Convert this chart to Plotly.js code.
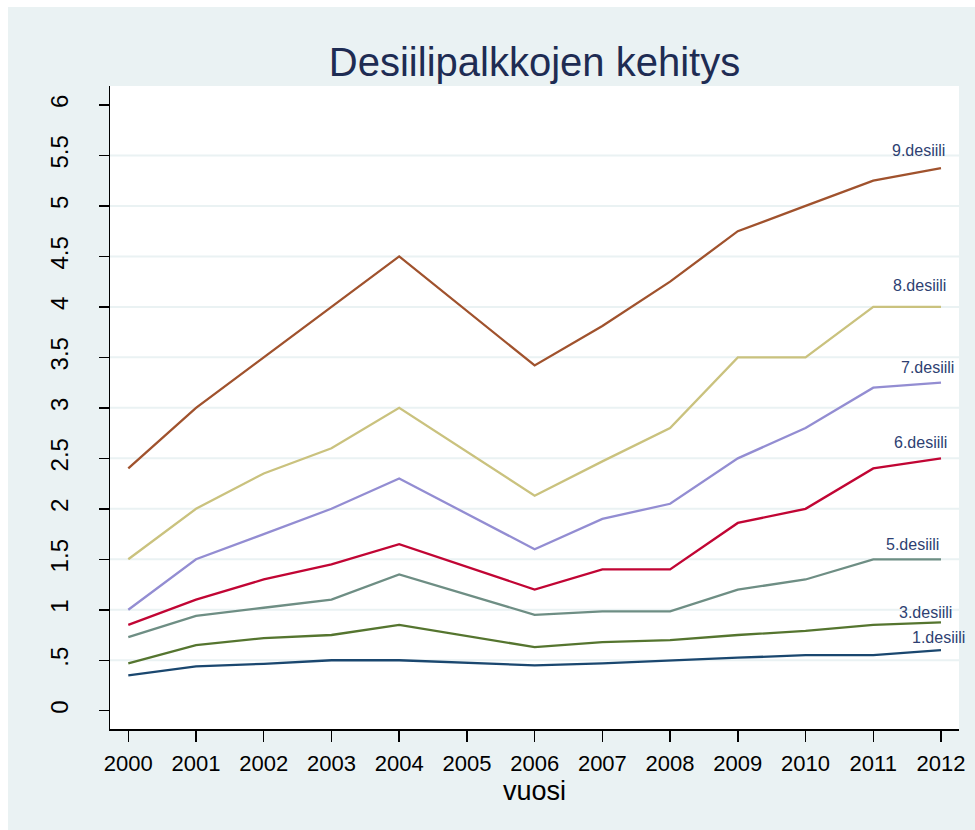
<!DOCTYPE html>
<html>
<head>
<meta charset="utf-8">
<script src="https://cdn.plot.ly/plotly-3.0.1.min.js"></script>
<style>
html,body{margin:0;padding:0;background:#ffffff;}
#chart{position:absolute;left:8px;top:7px;width:967px;height:823px;}
</style>
</head>
<body>
<div id="chart"></div>
<script>
// ---- data ----
const years = [2000, 2001, 2002, 2003, 2004, 2006, 2007, 2008, 2009, 2010, 2011, 2012];
const tickYears = [2000, 2001, 2002, 2003, 2004, 2005, 2006, 2007, 2008, 2009, 2010, 2011, 2012];
const yTickVals = [0, 0.5, 1, 1.5, 2, 2.5, 3, 3.5, 4, 4.5, 5, 5.5, 6];
const yTickText = ["0", ".5", "1", "1.5", "2", "2.5", "3", "3.5", "4", "4.5", "5", "5.5", "6"];
const seriesNames = ["1.desiili", "3.desiili", "5.desiili", "6.desiili", "7.desiili", "8.desiili", "9.desiili"];
const d1 = [0.35, 0.44, 0.465, 0.5, 0.5, 0.45, 0.47, 0.5, 0.525, 0.55, 0.55, 0.6];
const d3 = [0.47, 0.65, 0.72, 0.75, 0.85, 0.63, 0.68, 0.70, 0.75, 0.79, 0.85, 0.875];
const d5 = [0.73, 0.94, 1.02, 1.10, 1.35, 0.95, 0.985, 0.985, 1.2, 1.3, 1.5, 1.5];
const d6 = [0.85, 1.10, 1.30, 1.45, 1.65, 1.2, 1.4, 1.4, 1.86, 2.0, 2.4, 2.5];
const d7 = [1.0, 1.5, 1.75, 2.0, 2.3, 1.6, 1.9, 2.05, 2.5, 2.8, 3.2, 3.25];
const d8 = [1.5, 2.0, 2.35, 2.6, 3.0, 2.13, 2.47, 2.8, 3.5, 3.5, 4.0, 4.0];
const d9 = [2.4, 3.0, 3.5, 4.0, 4.5, 3.42, 3.81, 4.25, 4.75, 5.0, 5.25, 5.375];
const seriesValues = [d1, d3, d5, d6, d7, d8, d9];

// ---- styles ----
const colors = ["#1a476f", "#55752f", "#6e8e84", "#c10534", "#938dd2", "#cac27e", "#a0522d"];
const labelShift = [[26, 13], [13, 10], [0, 15], [8, 16], [15, 15], [7, 21], [6, 18]];
const font = "Liberation Sans, Arial, sans-serif";
const bg = "#eaf2f3";

const traces = seriesValues.map((vals, i) => ({
  x: years, y: vals, type: "scatter", mode: "lines",
  name: seriesNames[i], line: {color: colors[i], width: 2.3}, hoverinfo: "skip"
}));

const annotations = seriesValues.map((vals, i) => ({
  x: years[years.length - 1], y: vals[vals.length - 1], xref: "x", yref: "y",
  text: seriesNames[i], showarrow: false, xanchor: "right", yanchor: "middle",
  xshift: labelShift[i][0], yshift: labelShift[i][1],
  font: {family: font, size: 16, color: "#2e3f72"}
}));

const layout = {
  width: 967, height: 823,
  paper_bgcolor: bg, plot_bgcolor: "#ffffff",
  margin: {l: 102, r: 16, t: 79, b: 101},
  showlegend: false,
  title: {text: "Desiilipalkkojen kehitys", x: 0.5, xref: "paper", xanchor: "center",
          y: 1 - 55/823, yref: "container", yanchor: "middle",
          font: {family: font, size: 40, color: "#1e2c53"}},
  xaxis: {range: [1999.73, 2012.266], tickvals: tickYears, ticktext: tickYears.map(String),
          showgrid: false, zeroline: false, showline: true, linecolor: "#000", linewidth: 1.5,
          ticks: "outside", ticklen: 11, tickwidth: 1.5, tickcolor: "#000", ticklabelstandoff: 3,
          tickfont: {family: font, size: 22, color: "#000"},
          title: {text: "vuosi", standoff: 0, font: {family: font, size: 27, color: "#000"}}},
  yaxis: {range: [-0.181, 6.188], tickvals: yTickVals, ticktext: yTickText, tickangle: -90,
          showgrid: false, zeroline: false, showline: true, linecolor: "#000", linewidth: 1.5,
          ticks: "outside", ticklen: 10, tickwidth: 1.5, tickcolor: "#000", ticklabelstandoff: 21,
          tickfont: {family: font, size: 24, color: "#000"}},
  shapes: yTickVals.slice(1, -1).map(v => ({
    type: "line", xref: "paper", x0: 0, x1: 1, yref: "y", y0: v, y1: v,
    line: {color: bg, width: 2}, layer: "below"
  })),
  annotations: annotations
};

Plotly.newPlot("chart", traces, layout, {displayModeBar: false, staticPlot: true});
</script>
</body>
</html>
